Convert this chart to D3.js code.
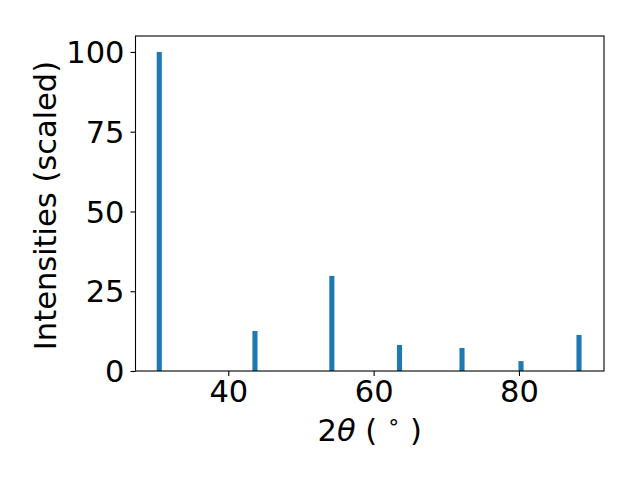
<!DOCTYPE html>
<html><head><meta charset="utf-8">
<script src="https://cdn.jsdelivr.net/npm/d3@7"></script>
<style>body{margin:0;background:#fff}svg{display:block}text{font-family:"DejaVu Sans",sans-serif;fill:#000}</style>
</head><body>
<script>
const twoTheta = [30.5, 43.67, 54.25, 63.56, 72.16, 80.28, 88.26];
const intensity = [100, 12.55, 29.8, 8.16, 7.2, 3.1, 11.3];
const xTicks = [40, 60, 80];
const yTicks = [0, 25, 50, 75, 100];

const W = 640, H = 480;
const m = {left: 135.5, right: 604, top: 36, bottom: 371};
const svg = d3.select("body").append("svg").attr("width", W).attr("height", H);
const x = d3.scaleLinear().domain([27.23, 91.7]).range([m.left, m.right]);
const y = d3.scaleLinear().domain([0, 105]).range([m.bottom, m.top]);
const barW = 0.7;
const fs = 30.5;

svg.append("g").selectAll("rect").data(twoTheta).join("rect")
  .attr("x", (d) => x(d - barW / 2))
  .attr("width", (d) => x(d + barW / 2) - x(d - barW / 2))
  .attr("y", (d, i) => y(intensity[i]))
  .attr("height", (d, i) => y(0) - y(intensity[i]))
  .attr("fill", "#1f77b4");

const xa = svg.append("g").attr("transform", `translate(0,${m.bottom})`)
  .call(d3.axisBottom(x).tickValues(xTicks).tickSize(5).tickPadding(4).tickFormat(d3.format("d")));
const ya = svg.append("g").attr("transform", `translate(${m.left},0)`)
  .call(d3.axisLeft(y).tickValues(yTicks).tickSize(5).tickPadding(6).tickFormat(d3.format("d")));
[xa, ya].forEach(a => {
  a.select(".domain").remove();
  a.selectAll("line").attr("stroke", "#000").attr("stroke-width", 1.1);
  a.selectAll("text").attr("font-size", fs).attr("font-family", "DejaVu Sans").attr("fill", "#000");
});
ya.selectAll("text").attr("dy", "0.35em");

svg.append("rect").attr("x", m.left).attr("y", m.top)
  .attr("width", m.right - m.left).attr("height", m.bottom - m.top)
  .attr("fill", "none").attr("stroke", "#000").attr("stroke-width", 1.1);

const xl = svg.append("text").attr("x", (m.left + m.right) / 2).attr("y", 441)
  .attr("text-anchor", "middle").attr("font-size", fs);
xl.append("tspan").text("2");
xl.append("tspan").attr("font-style", "italic").text("θ");
xl.append("tspan").text(" ( ");
xl.append("tspan").attr("font-size", fs * 0.7).attr("dy", -12).text("∘");
xl.append("tspan").attr("dy", 12).text(" )");

svg.append("text").attr("transform", `translate(56,${(m.top + m.bottom) / 2 + 2}) rotate(-90)`)
  .attr("text-anchor", "middle").attr("font-size", fs).text("Intensities (scaled)");
</script>
</body></html>
